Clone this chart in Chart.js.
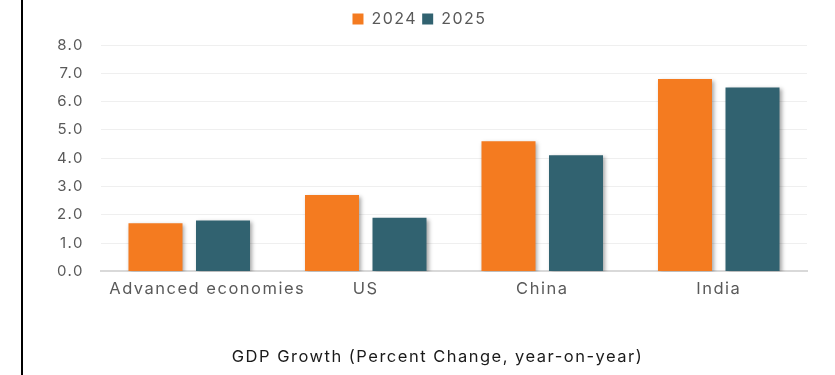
<!DOCTYPE html>
<html><head><meta charset="utf-8">
<script src="https://cdn.jsdelivr.net/npm/chart.js@4"></script>
<style>html,body{margin:0;padding:0;background:#fff;}#wrap{width:835px;height:375px;}</style>
</head><body><div id="wrap"><canvas id="c" width="835" height="375"></canvas></div>
<script>
const categories = ["Advanced economies", "US", "China", "India"];
const seriesNames = ["2024", "2025"];
const values2024 = [1.7, 2.7, 4.6, 6.8];
const values2025 = [1.8, 1.9, 4.1, 6.5];
const yTicks = [0, 1, 2, 3, 4, 5, 6, 7, 8];
const titleText = "GDP Growth (Percent Change, year-on-year)";

const FONT = "Inter, 'Noto Sans', sans-serif";

function setSpacing(chart) {
  if ('letterSpacing' in chart.ctx) chart.ctx.letterSpacing = '1.5px';
}

const decor = {
  id: 'decor',
  beforeInit(chart) {
    setSpacing(chart);
    const lg = chart.legend;
    if (lg) {
      const fit = lg.fit;
      lg.fit = function () { fit.call(this); this.height += 8; };
    }
  },
  beforeUpdate(chart) { setSpacing(chart); },
  afterLayout(chart) {
    if (chart.legend) { chart.legend.left += 16; chart.legend.right += 16; }
    if (chart.titleBlock) { chart.titleBlock.left += 34; chart.titleBlock.right += 34; }
  },
  beforeDraw(chart) {
    setSpacing(chart);
    const xs = chart.scales.x;
    const items = xs.getLabelItems(chart.chartArea);
    if (items && items[0] && !items[0]._nudged) {
      items[0].options.translation[0] += 18;
      items[0]._nudged = true;
    }
  },
  beforeDatasetsDraw(chart) {
    const ctx = chart.ctx;
    ctx.save();
    ctx.shadowColor = 'rgba(0,0,0,0.35)';
    ctx.shadowBlur = 4;
    ctx.shadowOffsetX = 2;
    ctx.shadowOffsetY = 2;
  },
  afterDatasetsDraw(chart) {
    chart.ctx.restore();
  },
  afterDraw(chart) {
    const ctx = chart.ctx;
    ctx.save();
    ctx.fillStyle = '#000';
    ctx.fillRect(21, 0, 2, chart.height);
    ctx.restore();
  }
};

new Chart(document.getElementById('c'), {
  type: 'bar',
  data: {
    labels: categories,
    datasets: [
      { label: seriesNames[0], data: values2024, backgroundColor: '#F47B20' },
      { label: seriesNames[1], data: values2025, backgroundColor: '#316270' }
    ]
  },
  options: {
    responsive: false,
    animation: false,
    devicePixelRatio: 1,
    categoryPercentage: 0.765,
    barPercentage: 0.8,
    layout: { padding: { left: 0, right: 28, top: 6, bottom: 8 } },
    plugins: {
      tooltip: { enabled: false },
      legend: {
        position: 'top',
        labels: {
          boxWidth: 11, boxHeight: 11, color: '#595959',
          font: { family: FONT, size: 16 }, padding: 5
        }
      },
      title: {
        display: true, position: 'bottom', text: titleText,
        color: '#1a1a1a', font: { family: FONT, size: 16.5, weight: 'normal' },
        padding: { top: 40, bottom: 0 }
      }
    },
    scales: {
      x: {
        grid: { display: false, drawTicks: false },
        border: { display: true, color: '#d9d9d9', width: 2 },
        ticks: {
          color: '#595959', font: { family: FONT, size: 16.5 }, padding: 8,
          maxRotation: 0, minRotation: 0, autoSkip: false
        }
      },
      y: {
        min: 0, max: 8,
        afterFit(scale) { scale.width = 101; },
        afterBuildTicks(scale) { scale.ticks = yTicks.map(v => ({ value: v })); },
        grid: { color: '#efefef', lineWidth: 1, drawTicks: false },
        border: { display: false },
        ticks: {
          color: '#595959', font: { family: FONT, size: 15 }, padding: 17,
          callback: v => Number(v).toFixed(1)
        }
      }
    }
  },
  plugins: [decor]
});
</script></body></html>
